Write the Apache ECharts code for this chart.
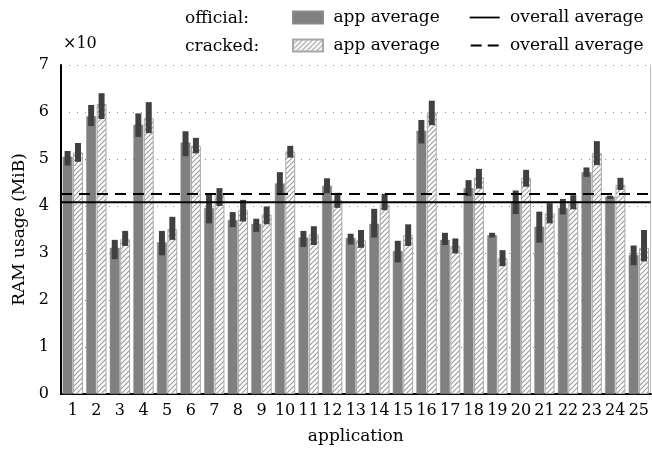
<!DOCTYPE html>
<html><head><meta charset="utf-8">
<script src="https://cdn.jsdelivr.net/npm/echarts@6/dist/echarts.min.js"></script>
<style>html,body{margin:0;padding:0;background:#fff}#chart{width:652px;height:461px}</style>
</head><body><div id="chart"></div>
<script>
const categories = ['1','2','3','4','5','6','7','8','9','10','11','12','13','14','15','16','17','18','19','20','21','22','23','24','25'];
const yTicks = [0,1,2,3,4,5,6,7];
const officialMean = [5.05,5.91,3.11,5.73,3.23,5.35,3.96,3.70,3.62,4.48,3.33,4.43,3.32,3.62,3.04,5.60,3.28,4.38,3.38,4.09,3.56,3.96,4.72,4.20,2.96];
const officialLow  = [4.86,5.70,2.87,5.47,2.95,5.06,3.63,3.55,3.45,4.24,3.13,4.27,3.18,3.33,2.80,5.33,3.17,4.21,3.33,3.83,3.22,3.82,4.62,4.15,2.74];
const officialHigh = [5.17,6.15,3.28,5.97,3.47,5.59,4.27,3.87,3.73,4.72,3.47,4.59,3.41,3.94,3.26,5.83,3.43,4.55,3.43,4.33,3.88,4.15,4.82,4.22,3.16];
const crackedMean  = [5.14,6.17,3.29,5.87,3.51,5.28,4.24,3.91,3.82,5.16,3.40,4.13,3.27,4.03,3.38,5.99,3.15,4.61,2.89,4.60,3.84,4.05,5.13,4.45,3.11];
const crackedLow   = [4.94,5.85,3.15,5.55,3.28,5.12,4.00,3.67,3.61,5.03,3.17,3.96,3.11,3.91,3.15,5.72,2.99,4.37,2.72,4.41,3.63,3.93,4.87,4.34,2.82];
const crackedHigh  = [5.34,6.40,3.47,6.21,3.77,5.45,4.38,4.13,3.99,5.28,3.57,4.28,3.49,4.26,3.61,6.24,3.31,4.79,3.06,4.77,4.06,4.23,5.38,4.60,3.49];
const officialOverall = 4.08;
const crackedOverall = 4.255;

const FONT = 'DejaVu Serif';
const BAR_FRAC = 0.42, GAP_FRAC = 0.05;

function makeHatch(){
  const s = 5;
  const c = document.createElement('canvas'); c.width = s; c.height = s;
  const g = c.getContext('2d');
  g.fillStyle = '#fff'; g.fillRect(0,0,s,s);
  g.strokeStyle = '#9a9a9a'; g.lineWidth = 1.1;
  g.beginPath();
  g.moveTo(0,s); g.lineTo(s,0);
  g.moveTo(-1,1); g.lineTo(1,-1);
  g.moveTo(s-1,s+1); g.lineTo(s+1,s-1);
  g.stroke();
  return c;
}
const hatch = {image: makeHatch(), repeat: 'repeat'};

function errRender(sign){
  return function(params, api){
    const i = api.value(0);
    const lo = api.coord([i, api.value(1)]);
    const hi = api.coord([i, api.value(2)]);
    const cw = api.size([1,0])[0];
    const bw = cw*BAR_FRAC;
    const off = sign*(bw*(1+GAP_FRAC))/2;
    const w = 6;
    return {type:'rect', shape:{x: lo[0]+off-w/2, y: hi[1], width: w, height: lo[1]-hi[1]}, style:{fill:'#404040'}};
  };
}

const txt = {fontFamily: FONT, fontSize: 16, color: '#000'};
const txt17 = {fontFamily: FONT, fontSize: 17, color: '#000'};
const strip = n => ' ' + n.replace(/^(official|cracked) /, '');
const solidIcon = 'path://M0,0L0,0M0,5.1H30V6.9H0ZM30,12L30,12';
const dashIcon = 'path://M0,0L0,0M1,5.1H12V6.9H1ZM18,5.1H29V6.9H18ZM30,12L30,12';
const legendBase = {left: 292, width: 420, padding: 0, itemWidth: 30, itemHeight: 12, itemGap: 30, selectedMode: false, formatter: strip, textStyle: txt17};

const chart = echarts.init(document.getElementById('chart'));
chart.setOption({
  animation: false,
  backgroundColor: '#fff',
  textStyle: {fontFamily: FONT},
  grid: {left: 61, right: 1, top: 65, bottom: 67, containLabel: false},
  legend: [
    Object.assign({top: 9, data: [{name: 'official app average', icon: 'rect'}, {name: 'official overall average', icon: solidIcon}]}, legendBase),
    Object.assign({top: 37, data: [{name: 'cracked app average', icon: 'rect'}, {name: 'cracked overall average', icon: dashIcon}]}, legendBase)
  ],
  graphic: [
    {type: 'text', left: 185, top: 10, style: {text: 'official:', font: '17px "DejaVu Serif"', fill: '#000'}},
    {type: 'text', left: 185, top: 38, style: {text: 'cracked:', font: '17px "DejaVu Serif"', fill: '#000'}},
    {type: 'text', left: 63, top: 36, style: {text: '×10', font: '16px "DejaVu Serif"', fill: '#000'}}
  ],
  xAxis: [
    {type: 'category', data: categories, position: 'bottom',
     axisLine: {lineStyle: {color: '#000', width: 2}}, axisTick: {show: false},
     axisLabel: Object.assign({margin: 9, interval: 0, hideOverlap: false}, txt),
     name: 'application', nameLocation: 'middle', nameGap: 34, nameTextStyle: txt17},
    {type: 'value', min: 0, max: 1, position: 'top', show: true,
     axisLine: {show: true, lineStyle: {color: '#000', width: 2}}, axisTick: {show: false}, axisLabel: {show: false}, splitLine: {show: false}}
  ],
  yAxis: [
    {type: 'value', min: yTicks[0], max: yTicks[yTicks.length-1], interval: 1, position: 'left',
     axisLine: {show: true, lineStyle: {color: '#000', width: 2}}, axisTick: {show: false},
     axisLabel: Object.assign({margin: 12}, txt),
     splitLine: {show: true, lineStyle: {color: '#888', width: 1, type: [1, 7]}},
     name: 'RAM usage (MiB)', nameLocation: 'middle', nameGap: 32, nameTextStyle: txt17},
    {type: 'value', min: yTicks[0], max: yTicks[yTicks.length-1], interval: 1, position: 'right',
     axisLine: {show: true, lineStyle: {color: '#bbb', width: 1}}, axisTick: {show: false}, axisLabel: {show: false}, splitLine: {show: false}}
  ],
  series: [
    {name: 'official app average', type: 'bar', data: officialMean, barWidth: (BAR_FRAC*100)+'%', barGap: (GAP_FRAC*100)+'%',
     itemStyle: {color: '#808080', borderColor: '#8a8a8a', borderWidth: 0.5}},
    {name: 'cracked app average', type: 'bar', data: crackedMean, barWidth: (BAR_FRAC*100)+'%', barGap: (GAP_FRAC*100)+'%',
     itemStyle: {color: hatch, borderColor: '#a8a8a8', borderWidth: 1}},
    {type: 'custom', renderItem: errRender(-1), encode: {x: 0, y: [1, 2]}, z: 5,
     data: categories.map((c, i) => [i, officialLow[i], officialHigh[i]])},
    {type: 'custom', renderItem: errRender(1), encode: {x: 0, y: [1, 2]}, z: 5,
     data: categories.map((c, i) => [i, crackedLow[i], crackedHigh[i]])},
    {name: 'official overall average', type: 'line', xAxisIndex: 1, symbol: 'none', z: 10,
     lineStyle: {color: '#000', width: 2}, itemStyle: {color: '#000'},
     data: [[0, officialOverall], [1, officialOverall]]},
    {name: 'cracked overall average', type: 'line', xAxisIndex: 1, symbol: 'none', z: 10,
     lineStyle: {color: '#000', width: 2, type: [11, 7]}, itemStyle: {color: '#000'},
     data: [[0, crackedOverall], [1, crackedOverall]]}
  ]
});
</script></body></html>
